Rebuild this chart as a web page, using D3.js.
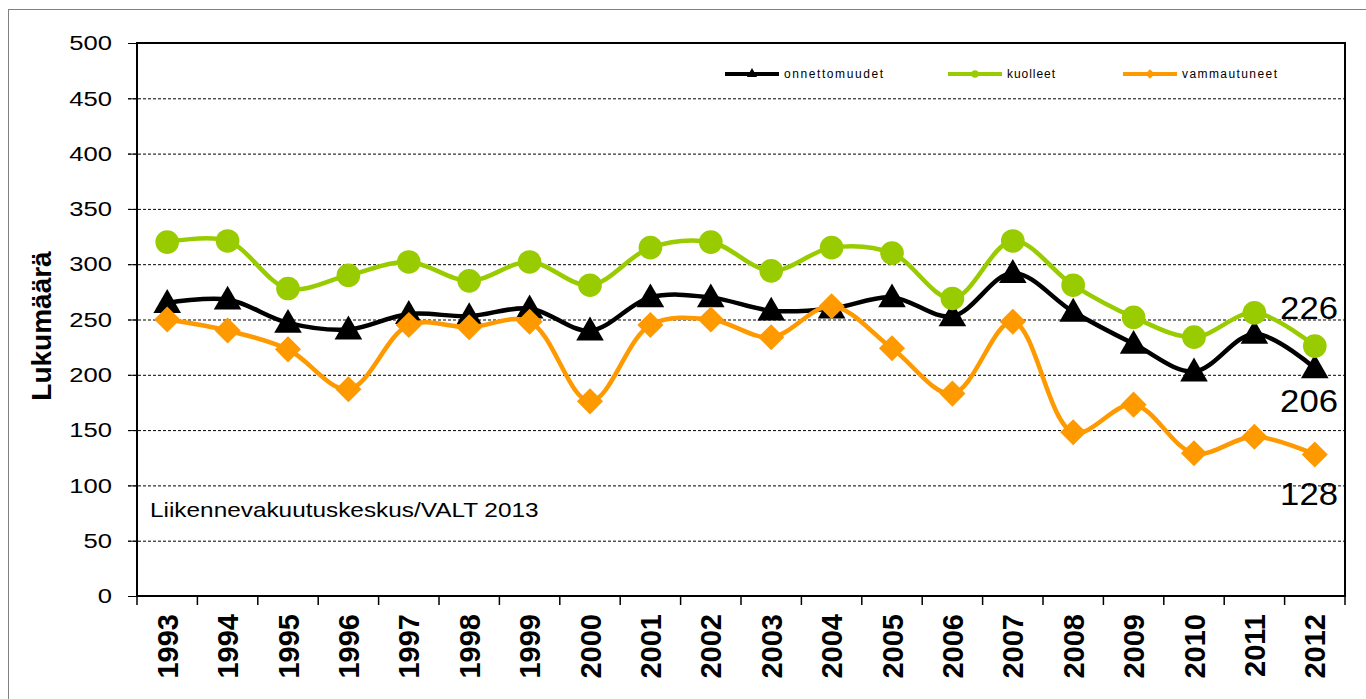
<!DOCTYPE html>
<html>
<head>
<meta charset="utf-8">
<script src="https://cdn.jsdelivr.net/npm/d3@7"></script>
<style>
  body { margin: 0; background: #fff; }
  svg { display: block; font-family: "Liberation Sans", Arial, sans-serif; }
</style>
</head>
<body>
<div id="chart"></div>
<script>
// data
const YEARS = ['1993','1994','1995','1996','1997','1998','1999','2000','2001','2002',
               '2003','2004','2005','2006','2007','2008','2009','2010','2011','2012'];
const ONNETTOMUUDET = [265, 268, 247, 241, 255, 253, 260, 240, 270, 270,
                       258, 260, 270, 253, 292, 257, 228, 203, 237, 206];
const KUOLLEET = [320, 321, 278, 290, 302, 285, 302, 281, 315, 320,
                  294, 315, 310, 269, 321, 281, 252, 234, 256, 226];
const VAMMAUTUNEET = [250, 240, 223, 187, 245, 243, 248, 176, 245, 250,
                      234, 262, 224, 183, 248, 148, 173, 129, 144, 128];
const Y_TICKS = [0, 50, 100, 150, 200, 250, 300, 350, 400, 450, 500];
const END_LABELS = ['226', '206', '128'];

const FRAME_WIDTH = 1366;
const FRAME_HEIGHT = 699;
const MARGINS = {left: 137, right: 21, top: 43, bottom: 103};
const VIS_WIDTH = FRAME_WIDTH - MARGINS.left - MARGINS.right;
const VIS_HEIGHT = FRAME_HEIGHT - MARGINS.top - MARGINS.bottom;

const FRAME = d3.select('#chart')
    .append('svg')
        .attr('width', FRAME_WIDTH)
        .attr('height', FRAME_HEIGHT);

// outer chart border
FRAME.append('rect')
    .attr('x', 8.5).attr('y', 9.5)
    .attr('width', FRAME_WIDTH).attr('height', FRAME_HEIGHT)
    .attr('fill', 'none')
    .attr('stroke', '#808080')
    .attr('stroke-width', 1);

// scales
const X_SCALE = d3.scaleBand()
    .domain(YEARS)
    .range([MARGINS.left, MARGINS.left + VIS_WIDTH]);

const Y_SCALE = d3.scaleLinear()
    .domain([0, 500])
    .range([MARGINS.top + VIS_HEIGHT, MARGINS.top]);

const xc = (d, i) => X_SCALE(YEARS[i]) + X_SCALE.bandwidth() / 2;

// dashed gridlines (they stick out left of the axis as tick marks)
FRAME.append('g')
    .selectAll('line')
    .data(Y_TICKS.filter(t => t > 0 && t < 500))
    .enter()
    .append('line')
        .attr('x1', MARGINS.left - 9)
        .attr('x2', MARGINS.left + VIS_WIDTH)
        .attr('y1', d => Y_SCALE(d) + 0.5)
        .attr('y2', d => Y_SCALE(d) + 0.5)
        .attr('stroke', '#000')
        .attr('stroke-width', 1)
        .attr('stroke-dasharray', '3,2');

// y axis
const yAxis = FRAME.append('g')
    .attr('transform', 'translate(' + MARGINS.left + ',0)')
    .call(d3.axisLeft(Y_SCALE).tickValues(Y_TICKS).tickSize(9).tickPadding(16));
yAxis.select('.domain').remove();
yAxis.selectAll('line').attr('stroke', '#000');
// the reference text is a bit stretched sideways
yAxis.selectAll('text')
    .attr('font-size', '21px')
    .attr('font-family', '"Liberation Sans", Arial, sans-serif')
    .attr('fill', '#000')
    .attr('x', null)
    .attr('transform', 'translate(-25,0) scale(1.22,1)');

// plot area border
FRAME.append('rect')
    .attr('x', MARGINS.left)
    .attr('y', MARGINS.top)
    .attr('width', VIS_WIDTH)
    .attr('height', VIS_HEIGHT)
    .attr('fill', 'none')
    .attr('stroke', '#000')
    .attr('stroke-width', 2);

// x axis ticks at category boundaries
const boundaries = YEARS.map(y => X_SCALE(y)).concat([MARGINS.left + VIS_WIDTH]);
FRAME.append('g')
    .selectAll('line')
    .data(boundaries)
    .enter()
    .append('line')
        .attr('x1', d => d).attr('x2', d => d)
        .attr('y1', MARGINS.top + VIS_HEIGHT)
        .attr('y2', MARGINS.top + VIS_HEIGHT + 9)
        .attr('stroke', '#000')
        .attr('stroke-width', 1.5);

// rotated year labels
FRAME.append('g')
    .selectAll('text')
    .data(YEARS)
    .enter()
    .append('text')
        .attr('transform', d => 'translate(' + (X_SCALE(d) + X_SCALE.bandwidth() / 2 + 10.5) + ',' + (MARGINS.top + VIS_HEIGHT + 18) + ') rotate(-90)')
        .attr('text-anchor', 'end')
        .attr('font-size', '29px')
        .attr('font-weight', 'bold')
        .text(d => d);

// y axis title
FRAME.append('text')
    .attr('transform', 'translate(51,326) rotate(-90)')
    .attr('text-anchor', 'middle')
    .attr('font-size', '28px')
    .attr('font-weight', 'bold')
    .text('Lukumäärä');

// source note
FRAME.append('text')
    .attr('transform', 'translate(150,517) scale(1.16,1)')
    .attr('font-size', '21px')
    .text('Liikennevakuutuskeskus/VALT 2013');

// series
const SERIES = [
    {name: 'onnettomuudet', values: ONNETTOMUUDET, color: '#000000', marker: d3.symbolTriangle, size: 330, rot: 0, lx: 725, tw: 99},
    {name: 'kuolleet', values: KUOLLEET, color: '#99CC00', marker: d3.symbolCircle, size: 440, rot: 0, lx: 948, tw: 48},
    {name: 'vammautuneet', values: VAMMAUTUNEET, color: '#FF9900', marker: d3.symbolSquare, size: 340, rot: 45, lx: 1123, tw: 95}
];

const line = d3.line()
    .x((d, i) => xc(d, i))
    .y(d => Y_SCALE(d))
    .curve(d3.curveCatmullRom.alpha(0.5));

SERIES.forEach(s => {
    const g = FRAME.append('g');
    g.append('path')
        .datum(s.values)
        .attr('d', line)
        .attr('fill', 'none')
        .attr('stroke', s.color)
        .attr('stroke-width', 4.5);

    g.selectAll('.marker')
        .data(s.values)
        .enter()
        .append('path')
            .attr('class', 'marker')
            .attr('transform', (d, i) => 'translate(' + xc(d, i) + ',' + (Y_SCALE(d) + (s.marker === d3.symbolTriangle ? 2 : 0)) + ') rotate(' + s.rot + ')')
            .attr('d', d3.symbol().type(s.marker).size(s.size))
            .attr('fill', s.color);

    // legend entry
    const ly = 74;
    FRAME.append('line')
        .attr('x1', s.lx).attr('x2', s.lx + 54)
        .attr('y1', ly).attr('y2', ly)
        .attr('stroke', s.color)
        .attr('stroke-width', 4);
    FRAME.append('path')
        .attr('transform', 'translate(' + (s.lx + 27) + ',' + ly + ') rotate(' + s.rot + ')')
        .attr('d', d3.symbol().type(s.marker).size(45))
        .attr('fill', s.color);
    FRAME.append('text')
        .attr('x', s.lx + 59)
        .attr('y', ly + 4)
        .attr('font-size', '12px')
        .attr('textLength', s.tw)
        .attr('lengthAdjust', 'spacing')
        .text(s.name);
});

// end value labels
const endX = MARGINS.left + VIS_WIDTH - 7;
FRAME.append('g')
    .selectAll('text')
    .data(END_LABELS)
    .enter()
    .append('text')
        .attr('transform', (d, i) => 'translate(' + endX + ',' + [319, 412, 505][i] + ') scale(1.12,1)')
        .attr('text-anchor', 'end')
        .attr('font-size', '31px')
        .text(d => d);
</script>
</body>
</html>
